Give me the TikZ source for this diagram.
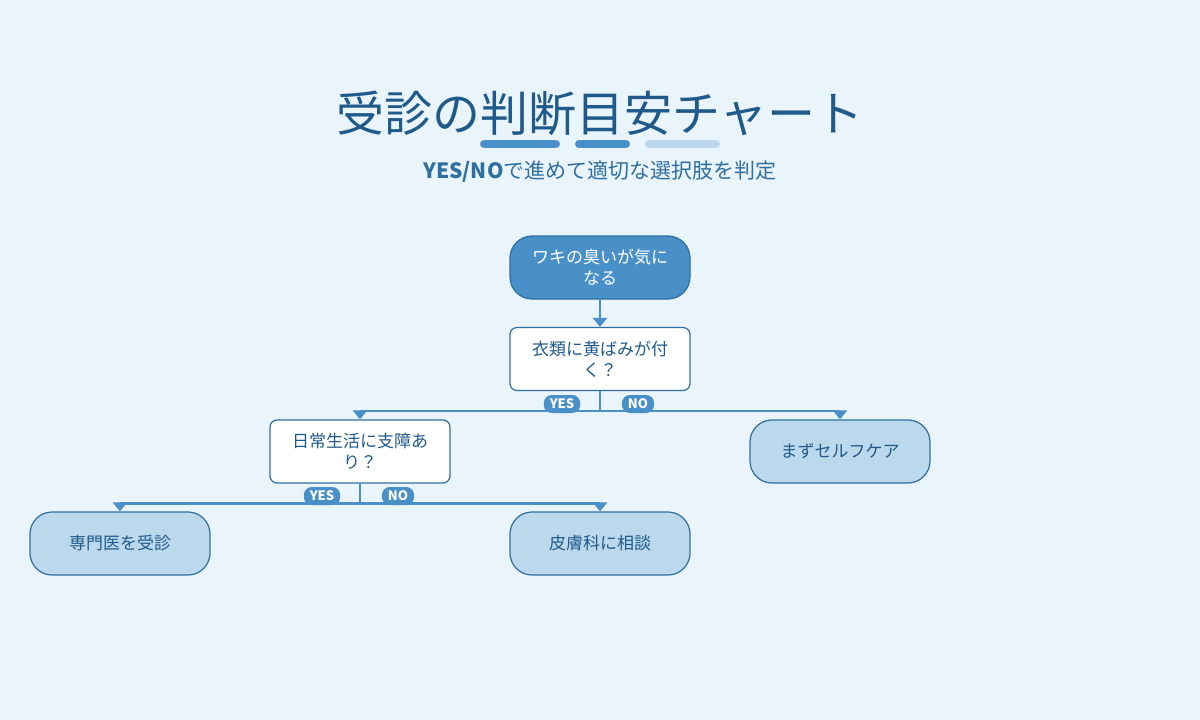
\documentclass[tikz,border=0pt]{standalone}
\usepackage{fontspec}
\setmainfont{Noto Sans CJK JP}
\usetikzlibrary{arrows.meta,positioning}
\definecolor{bgblue}{HTML}{EAF4FB}
\definecolor{midblue}{HTML}{4A90C8}
\definecolor{edgeblue}{HTML}{2E6FA0}
\definecolor{darkblue}{HTML}{1F5A8A}
\definecolor{lightblue}{HTML}{BBD8EC}
\tikzset{
  start/.style = {draw=edgeblue, line width=1.2pt, fill=midblue, rounded corners=22pt,
                  minimum width=180pt, minimum height=63pt, align=center,
                  text=white, font=\fontsize{17}{21}\selectfont},
  question/.style = {draw=edgeblue, line width=1.2pt, fill=white, rounded corners=7pt,
                  minimum width=180pt, minimum height=63pt, align=center,
                  text=darkblue, font=\fontsize{17}{21}\selectfont},
  result/.style = {draw=edgeblue, line width=1.2pt, fill=lightblue, rounded corners=22pt,
                  minimum width=180pt, minimum height=63pt, align=center,
                  text=darkblue, font=\fontsize{17}{21}\selectfont},
  badge/.style = {fill=midblue, rounded corners=8pt, text=white, inner xsep=6pt,
                  minimum height=18pt, font=\bfseries\fontsize{13}{13}\selectfont},
  link/.style = {draw=midblue, line width=2.5pt},
  arr/.style = {link, -{Triangle[width=14pt,length=9pt]}},
  bar/.style = {line width=8pt, line cap=round}
}
\begin{document}
\begin{tikzpicture}[x=1pt, y=-1pt]
	 \fill[bgblue] (0,0) rectangle (1200,720);
	 \useasboundingbox (0,0) rectangle (1200,720);
	 
	 \node[text=darkblue, font=\fontsize{48}{48}\selectfont] (title) at (600,113) {受診の判断目安チャート};
	 \draw[bar, midblue] (484,144) -- (556,144);
	 \draw[bar, midblue] (579,144) -- (626,144);
	 \draw[bar, lightblue] (649,144) -- (716,144);
	 \node[text=edgeblue, font=\fontsize{21}{21}\selectfont] (subtitle) at (600,172) {\textbf{YES/NO}で進めて適切な選択肢を判定};
	 
	 \node[start] (smell) at (600,267.5) {ワキの臭いが気に\\なる};
	 \node[question] (stain) at (600,359) {衣類に黄ばみが付\\く？};
	 \node[question] (daily) at (360,451.5) {日常生活に支障あ\\り？};
	 \node[result] (self) at (840,451.5) {まずセルフケア};
	 \node[result] (doctor) at (120,543.5) {専門医を受診};
	 \node[result] (derm) at (600,543.5) {皮膚科に相談};
	 
	 \draw[arr] (smell) -- (stain);
	 \draw[link] (stain.south) -- ++(0,20) coordinate (j1);
	 \draw[arr] (j1) -| (daily.north);
	 \draw[arr] (j1) -| (self.north);
	 \draw[link] (daily.south) -- ++(0,20) coordinate (j2);
	 \draw[arr] (j2) -| (doctor.north);
	 \draw[arr] (j2) -| (derm.north);
	 
	 \node[badge] (yes1) at (562,404) {YES};
	 \node[badge] (no1) at (638,404) {NO};
	 \node[badge] (yes2) at (322,496) {YES};
	 \node[badge] (no2) at (398,496) {NO};
\end{tikzpicture}
\end{document}
